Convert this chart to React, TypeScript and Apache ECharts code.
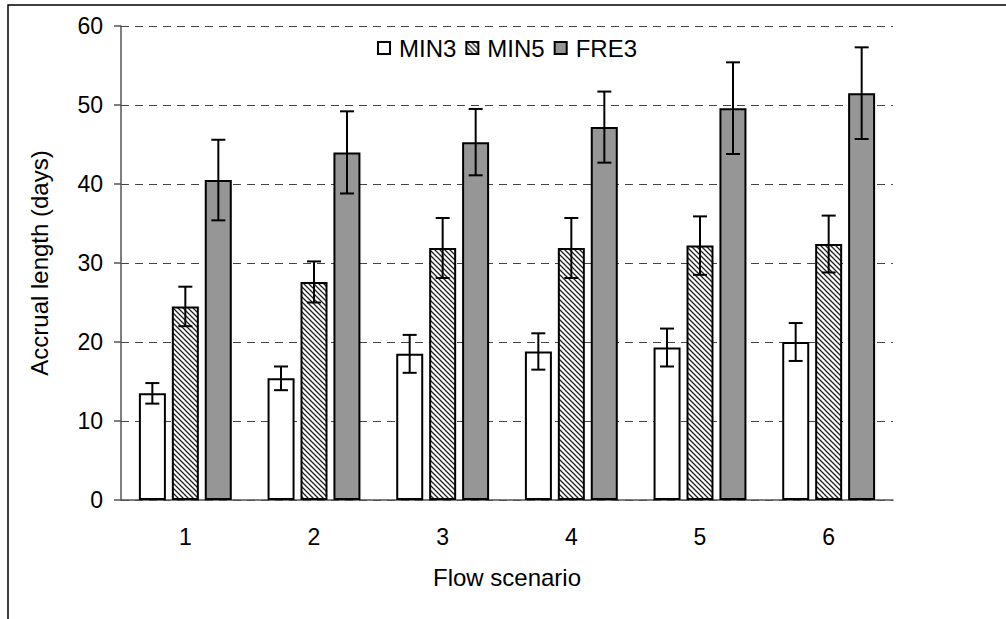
import React, { useEffect, useRef } from "react";
import * as echarts from "echarts";

const categories = ["1", "2", "3", "4", "5", "6"];
const min3 = [13.5, 15.4, 18.5, 18.8, 19.3, 20.0];
const min3Err = [1.3, 1.5, 2.4, 2.3, 2.4, 2.4];
const min5 = [24.5, 27.6, 31.9, 31.9, 32.2, 32.4];
const min5Err = [2.5, 2.6, 3.8, 3.8, 3.7, 3.6];
const fre3 = [40.5, 44.0, 45.3, 47.2, 49.6, 51.5];
const fre3Err = [5.1, 5.2, 4.2, 4.5, 5.8, 5.8];
const seriesNames = ["MIN3", "MIN5", "FRE3"];

const FONT = "'Liberation Sans', Arial, Helvetica, sans-serif";

const hatchSvg =
  "<svg xmlns='http://www.w3.org/2000/svg' width='5' height='5'>" +
  "<rect width='5' height='5' fill='white'/>" +
  "<path d='M-1,-1 L6,6 M-1,4 L1,6 M4,-1 L6,1' stroke='#222' stroke-width='1.3'/></svg>";
const hatchUrl = "data:image/svg+xml;charset=utf-8," + encodeURIComponent(hatchSvg);

function errSeries(name: string, vals: number[], errs: number[], offset: number) {
  return {
    type: "custom",
    name,
    silent: true,
    z: 10,
    encode: { x: 0, y: 1 },
    data: vals.map((v, i) => [i, v, errs[i]]),
    renderItem: (_p: any, api: any) => {
      const i = api.value(0);
      const v = api.value(1);
      const e = api.value(2);
      const top = api.coord([i, v + e]);
      const bot = api.coord([i, v - e]);
      const x = top[0] + offset;
      const hw = 7;
      const st = { stroke: "#000", lineWidth: 2 };
      return {
        type: "group",
        children: [
          { type: "line", shape: { x1: x, y1: top[1], x2: x, y2: bot[1] }, style: st },
          { type: "line", shape: { x1: x - hw, y1: top[1], x2: x + hw, y2: top[1] }, style: st },
          { type: "line", shape: { x1: x - hw, y1: bot[1], x2: x + hw, y2: bot[1] }, style: st },
        ],
      };
    },
  };
}

export default function App() {
  const ref = useRef<HTMLDivElement>(null);
  useEffect(() => {
    if (!ref.current) return;
    const chart = echarts.init(ref.current, null, { renderer: "svg" });
    const barBase = {
      type: "bar",
      barWidth: 27,
      barGap: "22%",
    };
    chart.setOption({
      animation: false,
      backgroundColor: "#fff",
      textStyle: { fontFamily: FONT },
      graphic: [
        {
          type: "rect",
          shape: { x: 8, y: 5, width: 1100, height: 700 },
          style: { fill: "none", stroke: "#000", lineWidth: 1.5 },
          silent: true,
        },
      ],
      legend: {
        data: seriesNames,
        top: 36,
        left: 377,
        padding: 0,
        itemWidth: 12,
        itemHeight: 12,
        itemGap: 9,
        icon: "rect",
        textStyle: { fontSize: 24, color: "#000", fontFamily: FONT, padding: [0, 0, 0, 4] },
      },
      grid: { left: 121, right: 113, top: 26, bottom: 119 },
      xAxis: {
        type: "category",
        data: categories,
        name: "Flow scenario",
        nameLocation: "middle",
        nameGap: 65,
        nameTextStyle: { fontSize: 24, color: "#000", fontFamily: FONT },
        axisLine: { lineStyle: { color: "#555", width: 1.5 } },
        axisTick: { length: 7, lineStyle: { color: "#555", width: 1.5 } },
        axisLabel: { fontSize: 23, color: "#000", margin: 25, fontFamily: FONT },
      },
      yAxis: {
        type: "value",
        min: 0,
        max: 60,
        interval: 10,
        name: "Accrual length (days)",
        nameLocation: "middle",
        nameGap: 70,
        nameTextStyle: { fontSize: 24, color: "#000", fontFamily: FONT },
        axisLine: { show: true, lineStyle: { color: "#555", width: 1.5 } },
        axisTick: { show: true, length: 7, lineStyle: { color: "#555", width: 1.5 } },
        axisLabel: { fontSize: 23, color: "#000", margin: 18, fontFamily: FONT },
        splitLine: { lineStyle: { color: "#444", width: 1, type: [8, 6] } },
      },
      series: [
        {
          ...barBase,
          name: "MIN3",
          data: min3,
          itemStyle: { color: "#fff", borderColor: "#000", borderWidth: 2 },
        },
        {
          ...barBase,
          name: "MIN5",
          data: min5,
          itemStyle: {
            color: { image: hatchUrl, repeat: "repeat", imageWidth: 5, imageHeight: 5 },
            borderColor: "#000",
            borderWidth: 2,
          },
        },
        {
          ...barBase,
          name: "FRE3",
          data: fre3,
          itemStyle: { color: "#969696", borderColor: "#000", borderWidth: 2 },
        },
        errSeries("MIN3 error", min3, min3Err, -33),
        errSeries("MIN5 error", min5, min5Err, 0),
        errSeries("FRE3 error", fre3, fre3Err, 33),
      ],
    });
    return () => chart.dispose();
  }, []);
  return (
    <div
      ref={ref}
      style={{ position: "fixed", left: 0, top: 0, width: 1006, height: 619, background: "#fff" }}
    />
  );
}
